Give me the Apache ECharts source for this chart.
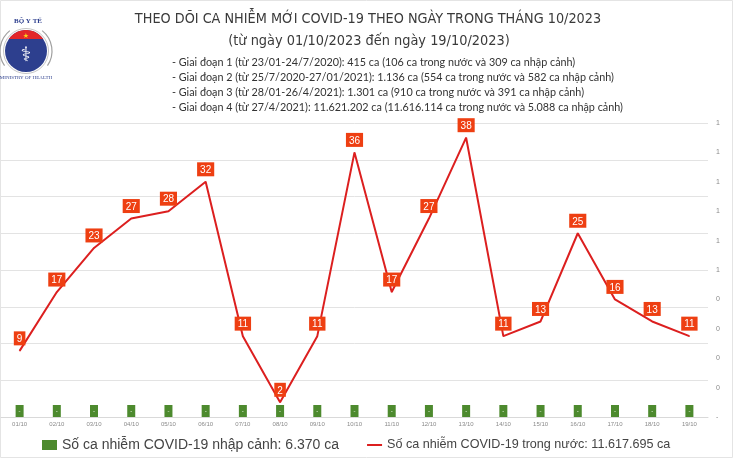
<!DOCTYPE html>
<html><head><meta charset="utf-8">
<script src="https://cdn.jsdelivr.net/npm/echarts@6/dist/echarts.min.js"></script>
<style>html,body{margin:0;padding:0;background:#fff}#c{width:736px;height:460px}</style>
</head><body><div id="c"></div>
<script>
const categories = ['01/10','02/10','03/10','04/10','05/10','06/10','07/10','08/10','09/10','10/10','11/10','12/10','13/10','14/10','15/10','16/10','17/10','18/10','19/10'];
const domesticCases = [9,17,23,27,28,32,11,2,11,36,17,27,38,11,13,25,16,13,11];
const importedCases = [0,0,0,0,0,0,0,0,0,0,0,0,0,0,0,0,0,0,0];
const rightTickLabels = ['-','0','0','0','0','1','1','1','1','1','1'];
const titleLines = ['THEO DÕI CA NHIỄM MỚI COVID-19 THEO NGÀY TRONG THÁNG 10/2023', '(từ ngày 01/10/2023 đến ngày 19/10/2023)'];
const noteLines = [
  '- Giai đoạn 1 (từ 23/01-24/7/2020): 415 ca (106 ca trong nước và 309 ca nhập cảnh)',
  '- Giai đoạn 2 (từ 25/7/2020-27/01/2021): 1.136 ca (554 ca trong nước và 582 ca nhập cảnh)',
  '- Giai đoạn 3 (từ 28/01-26/4/2021): 1.301 ca (910 ca trong nước và 391 ca nhập cảnh)',
  '- Giai đoạn 4 (từ 27/4/2021): 11.621.202 ca (11.616.114 ca trong nước và 5.088 ca nhập cảnh)'
];
const seriesNames = ['Số ca nhiễm COVID-19 nhập cảnh: 6.370 ca', 'Số ca nhiễm COVID-19 trong nước: 11.617.695 ca'];

const chart = echarts.init(document.getElementById('c'));

const lcx = 26, lcy = 51, lr = 21;
function segmentPoints(cx, cy, r, yCut) {
  const pts = [];
  const dy = cy - yCut;
  const a0 = Math.asin(dy / r);
  for (let i = 0; i <= 30; i++) {
    const a = a0 + (Math.PI - 2 * a0) * i / 30;
    pts.push([cx + r * Math.cos(a), cy - r * Math.sin(a)]);
  }
  return pts;
}
const titleFont = '"Liberation Sans Narrow", "DejaVu Sans Condensed", Lato';

const graphics = [
  { type: 'rect', shape: { x: 0.5, y: 0.5, width: 732, height: 457 }, style: { fill: 'none', stroke: '#e4e4e4', lineWidth: 1 }, silent: true },
  { type: 'arc', shape: { cx: lcx, cy: lcy, r: lr + 5, startAngle: -0.9, endAngle: 0.6, clockwise: true }, style: { stroke: '#a0a0a0', lineWidth: 1.2, fill: 'none' } },
  { type: 'arc', shape: { cx: lcx, cy: lcy, r: lr + 5, startAngle: Math.PI - 0.6, endAngle: Math.PI + 0.9, clockwise: true }, style: { stroke: '#a0a0a0', lineWidth: 1.2, fill: 'none' } },
  { type: 'circle', shape: { cx: lcx, cy: lcy, r: lr + 1.5 }, style: { fill: '#fff', stroke: '#c4c4c4', lineWidth: 1 } },
  { type: 'circle', shape: { cx: lcx, cy: lcy, r: lr }, style: { fill: '#2d3f8e' } },
  { type: 'polygon', shape: { points: segmentPoints(lcx, lcy, lr, lcy - 12) }, style: { fill: '#e3262a' } },
  { type: 'text', style: { text: '★', x: lcx, y: lcy - 15, fill: '#f6d21b', font: '7px DejaVu Sans', align: 'center', verticalAlign: 'middle' } },
  { type: 'text', style: { text: '⚕', x: lcx, y: lcy + 5, fill: '#ffffff', font: '20px DejaVu Sans', align: 'center', verticalAlign: 'middle' } },
  { type: 'text', style: { text: 'BỘ Y TẾ', x: lcx + 2, y: 21, fill: '#2d3f8e', font: 'bold 7px "Liberation Serif"', align: 'center', verticalAlign: 'middle' } },
  { type: 'text', style: { text: 'MINISTRY OF HEALTH', x: lcx, y: lcy + lr + 6, fill: '#2d3f8e', font: '5px "Liberation Serif"', align: 'center', verticalAlign: 'middle' } },
  { type: 'text', style: { text: titleLines[0], x: 368, y: 19, fill: '#3a3a3a', font: '14.3px ' + titleFont, align: 'center', verticalAlign: 'middle' } },
  { type: 'text', style: { text: titleLines[1], x: 369, y: 41, fill: '#3a3a3a', font: '14.4px ' + titleFont, align: 'center', verticalAlign: 'middle' } }
];
noteLines.forEach((t, i) => {
  graphics.push({ type: 'text', style: { text: t, x: 172, y: 63 + i * 15, fill: '#333', font: '10.8px Lato', align: 'left', verticalAlign: 'middle' } });
});

chart.setOption({
  animation: false,
  backgroundColor: '#ffffff',
  graphic: graphics,
  grid: { left: 1, right: 28, top: 123, bottom: 43, containLabel: false },
  legend: {
    left: 42, top: 438, padding: 0, itemGap: 27, itemWidth: 15, itemHeight: 10,
    textStyle: { fontFamily: 'Liberation Sans', fontSize: 14, color: '#444' },
    data: [
      { name: seriesNames[0], icon: 'rect' },
      { name: seriesNames[1], itemStyle: { opacity: 0 }, textStyle: { fontSize: 12.6 } }
    ]
  },
  xAxis: {
    type: 'category', data: categories, boundaryGap: true,
    axisLine: { lineStyle: { color: '#d9d9d9' } }, axisTick: { show: false },
    axisLabel: { fontSize: 6, color: '#8a8a8a', margin: 4, interval: 0, fontFamily: 'Liberation Sans' }
  },
  yAxis: [
    { type: 'value', min: 0, max: 40, interval: 5, axisLabel: { show: false }, axisLine: { show: false }, axisTick: { show: false },
      splitLine: { lineStyle: { color: '#e3e3e3', width: 1 } } },
    { type: 'value', position: 'right', min: 0, max: 1, interval: 0.1, splitLine: { show: false }, axisLine: { show: false }, axisTick: { show: false },
      axisLabel: { fontSize: 7, color: '#8a8a8a', margin: 8, fontFamily: 'Liberation Sans', formatter: (v) => rightTickLabels[Math.round(v * 10)] } }
  ],
  series: [
    { name: seriesNames[0], type: 'bar', yAxisIndex: 1, data: importedCases, barWidth: 8, barMinHeight: 12,
      itemStyle: { color: '#4d8a2e' },
      label: { show: true, position: 'inside', formatter: (p) => p.value === 0 ? '-' : String(p.value), color: '#e8f0e0', fontSize: 6 } },
    { name: seriesNames[1], type: 'line', yAxisIndex: 0, data: domesticCases, symbol: 'circle', symbolSize: 1, showSymbol: true, smooth: false,
      lineStyle: { color: '#dc1f1f', width: 2 }, itemStyle: { color: '#dc1f1f' },
      label: { show: true, position: 'top', distance: 5, color: '#fff', backgroundColor: '#ee3f12', padding: [3, 3, 1, 3], fontSize: 10, fontFamily: 'Liberation Sans' } }
  ]
});
</script></body></html>
